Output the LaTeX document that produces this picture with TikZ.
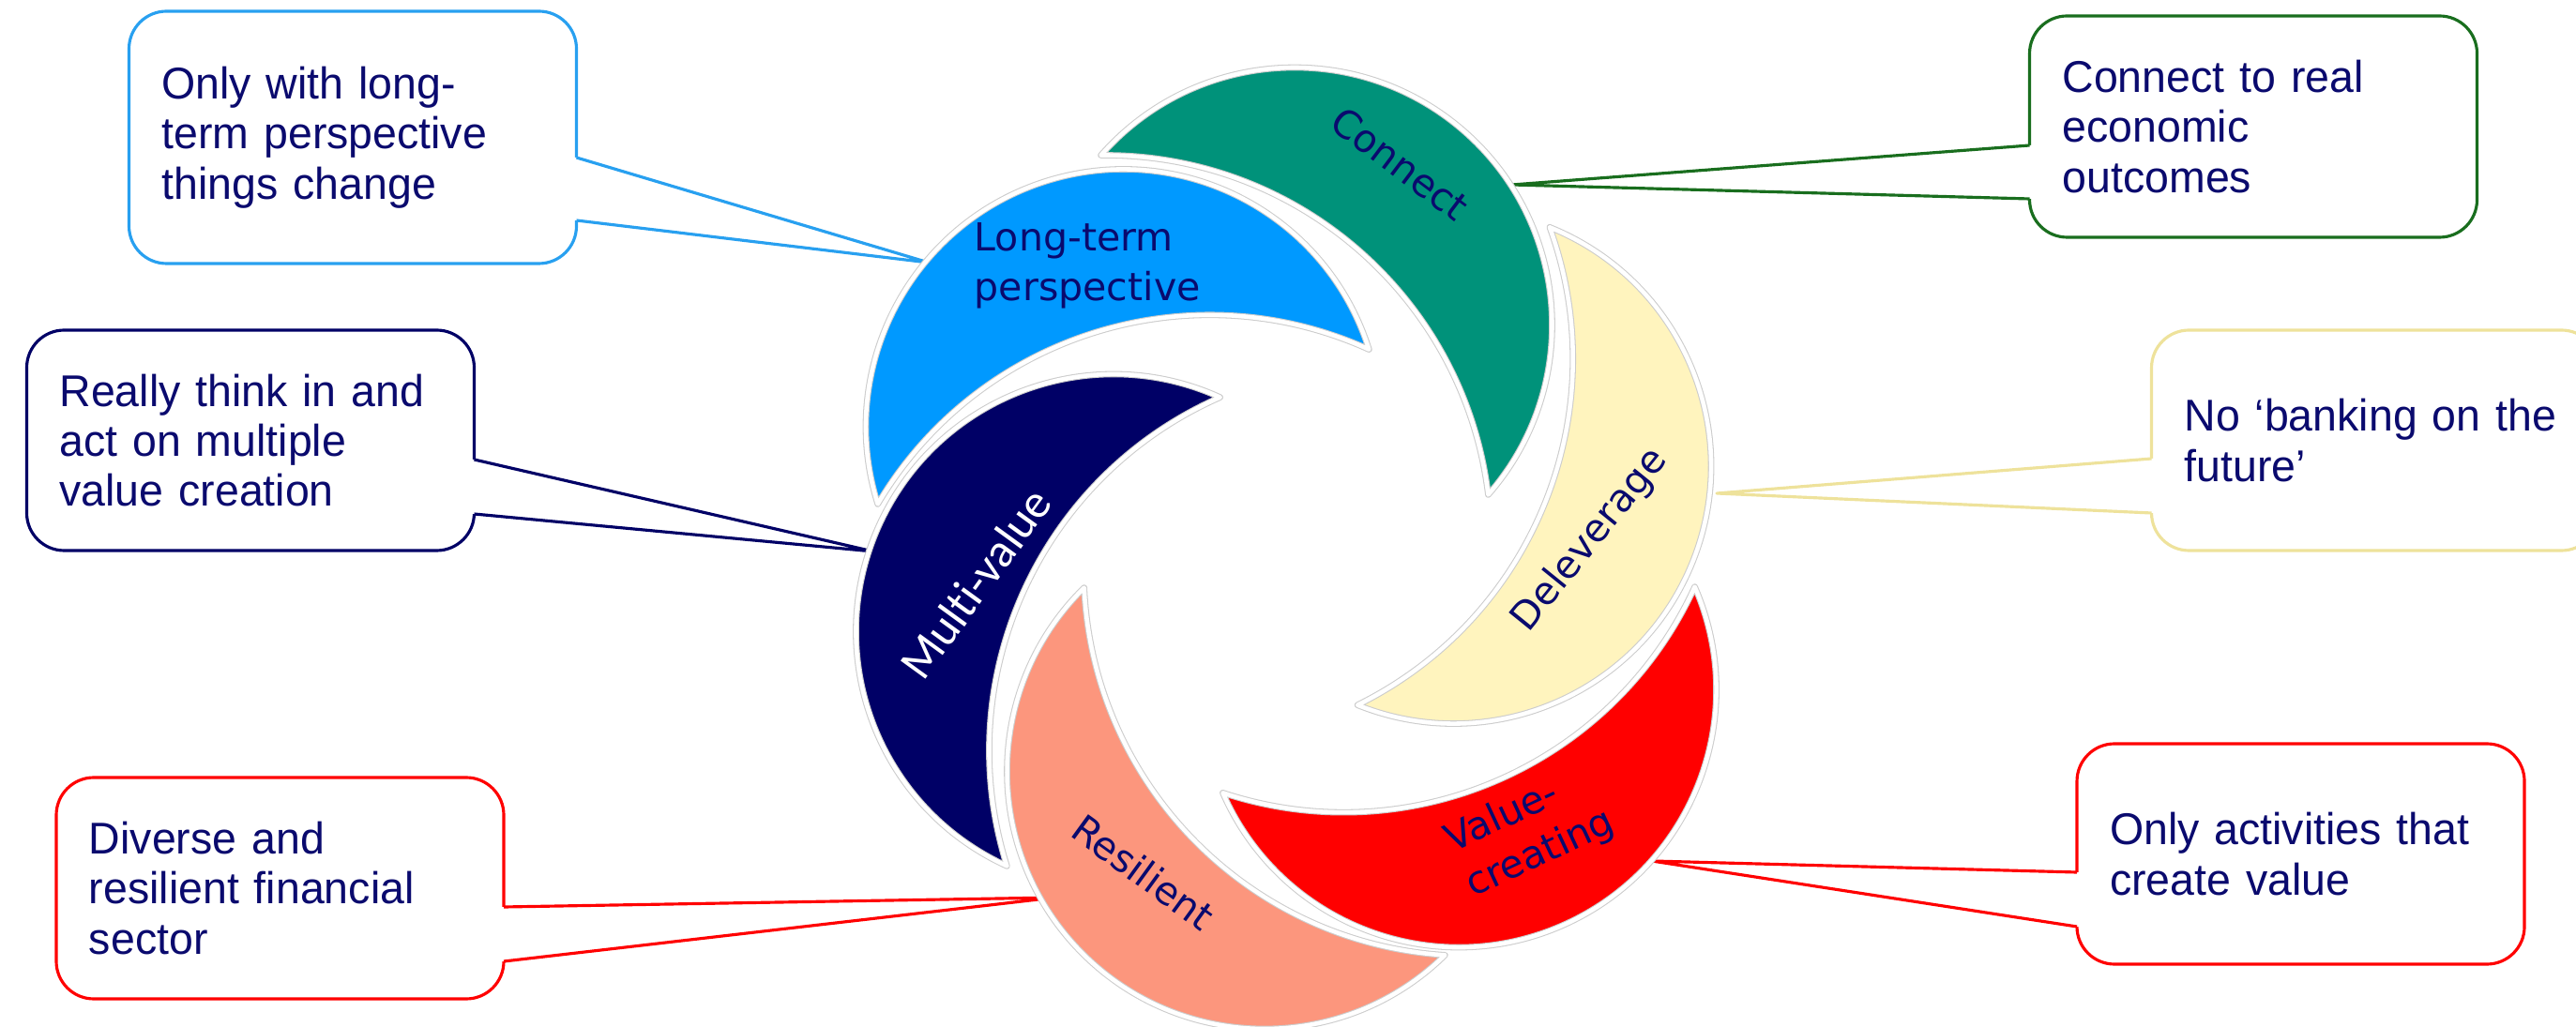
\documentclass[tikz,border=0pt]{standalone}
\usepackage{fontspec}
\setmainfont{Liberation Sans}[FakeStretch=0.98]
\newfontfamily\petalfont{DejaVu Sans}
\newfontfamily\mvfont{Carlito}[Ligatures=NoCommon]
\usepackage{tikz}
\usetikzlibrary{calc}

% colours
\definecolor{rbnavy}{RGB}{0,0,102}
\definecolor{txtnavy}{RGB}{10,10,110}
\definecolor{rbgreen}{RGB}{0,146,122}
\definecolor{rbblue}{RGB}{0,153,255}
\definecolor{rbsalmon}{RGB}{252,150,125}
\definecolor{rbred}{RGB}{255,0,0}
\definecolor{rbyellow}{RGB}{255,244,190}
\definecolor{lnblue}{RGB}{40,160,240}
\definecolor{lngreen}{RGB}{25,110,30}
\definecolor{lnyellow}{RGB}{238,226,155}

\tikzset{
  petal/.style={draw=black!20, double=white, double distance=1.3pt, line width=0.3pt, line join=round},
  plabel/.style={font=\petalfont\fontsize{11.7}{15}\selectfont, text=txtnavy, inner sep=0pt},
  callout/.style={draw=#1, fill=white, line width=0.9pt, rounded corners=0.4cm,
    text width=4.07cm, inner xsep=0.35cm, inner ysep=0pt, outer sep=0pt,
    minimum height=2.35cm, align=left, text=txtnavy, font=\fontsize{13.5}{15.2}\selectfont},
  tail/.style={draw=#1, line width=0.9pt, line join=round}
}

% one crescent: centre of its chord, turn, fill
\newcommand{\petal}[4]{%
  \begin{scope}[shift={(#1,#2)}, rotate=#3]
    \filldraw[petal, fill=#4] (-2.745,0) arc[start angle=180, end angle=0, radius=2.745]
      arc[start angle=48.13, end angle=131.87, radius=4.113] -- cycle;
  \end{scope}}

% wedge from a box side to the tip: box, side, inward shift, dy1, dy2, tip, colour
\newcommand{\calltail}[7]{%
  \fill[white] ($(#1.#2)+(#3,#4)$) -- ($(#1.#2)+(0,#4)$) -- (#6)
    -- ($(#1.#2)+(0,#5)$) -- ($(#1.#2)+(#3,#5)$) -- cycle;
  \draw[tail=#7] ($(#1.#2)+(0,#4)$) -- (#6) -- ($(#1.#2)+(0,#5)$);}

\begin{document}
\begin{tikzpicture}
    \useasboundingbox (0,0) rectangle (27.46,10.94);
    \clip (0,0) rectangle (27.46,10.94);

    % Callouts
    \node[callout=lnblue, minimum height=2.69cm] (lt) at (3.76,9.475) {Only with long-\\term perspective\\things change};
    \node[callout=rbnavy] (mv) at (2.67,6.245) {Really think in and\\act on multiple\\value creation};
    \node[callout=lngreen, minimum height=2.36cm] (cn) at (24.02,9.59) {Connect to real\\economic\\outcomes};
    \node[callout=lnyellow] (dl) at (25.32,6.245) {No ‘banking on the\\future’};
    \node[callout=rbred, minimum height=2.36cm] (rs) at (2.985,1.47) {Diverse and\\resilient financial\\sector};
    \node[callout=rbred] (vc) at (24.525,1.835) {Only activities that\\create value};

    \coordinate (lt-tip) at (9.90,8.14);
    \coordinate (mv-tip) at (9.31,5.06);
    \coordinate (cn-tip) at (16.12,8.97);
    \coordinate (dl-tip) at (18.30,5.68);
    \coordinate (rs-tip) at (11.24,1.37);
    \coordinate (vc-tip) at (17.61,1.76);

    \calltail{lt}{east}{-0.05}{-0.215}{-0.885}{lt-tip}{lnblue}
    \calltail{mv}{east}{-0.05}{-0.205}{-0.785}{mv-tip}{rbnavy}
    \calltail{cn}{west}{0.05}{-0.20}{-0.77}{cn-tip}{lngreen}
    \calltail{dl}{west}{0.05}{-0.195}{-0.775}{dl-tip}{lnyellow}
    \calltail{rs}{east}{-0.05}{-0.20}{-0.78}{rs-tip}{rbred}
    \calltail{vc}{west}{0.05}{-0.195}{-0.775}{vc-tip}{rbred}

    % Pinwheel
    \petal{13.80}{7.475}{-41.24}{rbgreen}
    \petal{11.975}{6.39}{17.47}{rbblue}
    \petal{11.87}{4.205}{65.55}{rbnavy}
    \petal{13.48}{2.715}{134.48}{rbsalmon}
    \petal{15.55}{3.585}{203.59}{rbred}
    \petal{15.495}{5.97}{248.1}{rbyellow}

    % Petal labels
    \node[plabel, rotate=-37] (connect) at (14.925,9.195) {Connect};
    \node[plabel, align=left, anchor=west] (longterm) at (10.38,8.11) {Long-term\\perspective};
    \node[font=\mvfont\fontsize{14.5}{16}\selectfont, text=white, inner sep=0pt, rotate=54] (multi) at (10.40,4.72) {Multi-value};
    \node[plabel, rotate=-36] (resilient) at (12.19,1.64) {Resilient};
    \node[plabel, align=left, anchor=west, rotate=25] (valuec) at (15.54,1.71) {Value-\\creating};
    \node[plabel, rotate=51] (delev) at (16.95,5.18) {Deleverage};
\end{tikzpicture}
\end{document}
